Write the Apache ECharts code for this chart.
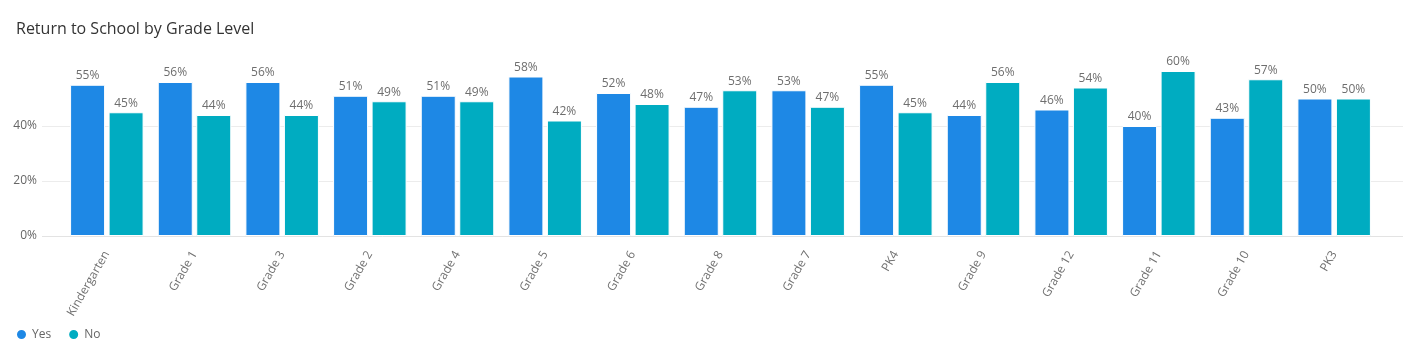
<!DOCTYPE html>
<html>
<head>
<meta charset="utf-8">
<script src="https://cdn.jsdelivr.net/npm/echarts@6/dist/echarts.min.js"></script>
<style>
  html, body { margin: 0; padding: 0; background: #fff; }
  #chart { width: 1403px; height: 360px; }
</style>
</head>
<body>
<div id="chart"></div>
<script>
const categories = ['Kindergarten', 'Grade 1', 'Grade 3', 'Grade 2', 'Grade 4', 'Grade 5', 'Grade 6', 'Grade 8', 'Grade 7', 'PK4', 'Grade 9', 'Grade 12', 'Grade 11', 'Grade 10', 'PK3'];
const yesValues = [55, 56, 56, 51, 51, 58, 52, 47, 53, 55, 44, 46, 40, 43, 50];
const noValues  = [45, 44, 44, 49, 49, 42, 48, 53, 47, 45, 56, 54, 60, 57, 50];
const seriesNames = ['Yes', 'No'];
const yTicks = [0, 20, 40, 60];

const FONT = 'Open Sans';
const chart = echarts.init(document.getElementById('chart'), null, { renderer: 'canvas' });

const barLabel = {
  show: true,
  position: 'top',
  distance: 3,
  color: '#6e6e6e',
  fontSize: 12,
  fontFamily: FONT,
  formatter: p => Math.round(p.value) + '%'
};

chart.setOption({
  animation: false,
  textStyle: { fontFamily: FONT },
  title: {
    text: 'Return to School by Grade Level',
    left: 11,
    top: 16,
    textStyle: { fontSize: 16, fontWeight: 'normal', color: '#333', fontFamily: FONT }
  },
  legend: {
    data: seriesNames,
    left: 10,
    top: 323,
    icon: 'circle',
    itemWidth: 11,
    itemHeight: 11,
    itemGap: 16,
    textStyle: { color: '#666', fontSize: 12, fontFamily: FONT }
  },
  grid: [
    { left: 42, right: 0, top: 71, bottom: 124, containLabel: false },
    { left: 63, right: 25, top: 71, bottom: 124, containLabel: false }
  ],
  xAxis: [
    { gridIndex: 0, type: 'category', data: categories, show: false },
    {
      gridIndex: 1,
      type: 'category',
      data: categories,
      axisLine: { show: false },
      axisTick: { show: false },
      axisLabel: {
        rotate: 60,
        interval: 0,
        margin: 16,
        color: '#707070',
        fontSize: 12,
        fontFamily: FONT
      }
    }
  ],
  yAxis: [
    {
      gridIndex: 0,
      type: 'value',
      min: yTicks[0],
      max: yTicks[yTicks.length - 1],
      interval: 20,
      axisLine: { show: false },
      axisTick: { show: false },
      axisLabel: {
        showMaxLabel: false,
        margin: 5,
        color: '#666',
        fontSize: 12,
        fontFamily: FONT,
        formatter: v => v + '%'
      },
      splitLine: { show: true, lineStyle: { color: ['#e3e3e3', '#ececec', '#ececec', 'rgba(0,0,0,0)'], width: 1 } }
    },
    {
      gridIndex: 1,
      type: 'value',
      min: yTicks[0],
      max: yTicks[yTicks.length - 1],
      interval: 20,
      show: false,
      splitLine: { show: false }
    }
  ],
  series: [
    {
      name: seriesNames[0],
      type: 'bar',
      xAxisIndex: 1,
      yAxisIndex: 1,
      data: yesValues,
      barWidth: 35,
      barGap: '10%',
      itemStyle: { color: '#1e88e5', borderColor: '#fff', borderWidth: 1 },
      label: barLabel
    },
    {
      name: seriesNames[1],
      type: 'bar',
      xAxisIndex: 1,
      yAxisIndex: 1,
      data: noValues,
      barWidth: 35,
      barGap: '10%',
      itemStyle: { color: '#00acc1', borderColor: '#fff', borderWidth: 1 },
      label: barLabel
    }
  ]
});
</script>
</body>
</html>
